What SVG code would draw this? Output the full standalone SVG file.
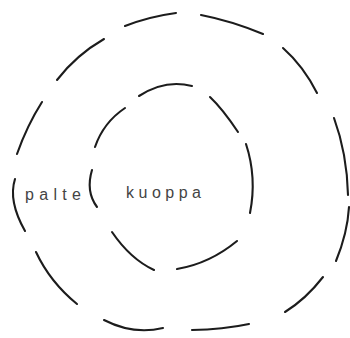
<svg xmlns="http://www.w3.org/2000/svg" width="350" height="338" viewBox="0 0 350 338">
<style>
.d{fill:none;stroke:#1c1c1c;stroke-width:2.1;stroke-linecap:round}
.t{font-family:"Liberation Sans","DejaVu Sans",sans-serif;font-size:16px;fill:#444}
</style>
<rect width="350" height="338" fill="#fff"/>
<g id="outer-ring">
<path class="d" d="M125,26 Q149.5,16.5 176,13"/>
<path class="d" d="M201,15 Q231.4,20.9 263,34"/>
<path class="d" d="M283,48 Q303.4,66.1 317,93"/>
<path class="d" d="M334,118 Q347,153.5 348,195"/>
<path class="d" d="M349,207 Q347.5,233 336,261"/>
<path class="d" d="M323,277 Q306,298.9 285,312"/>
<path class="d" d="M249,324 Q222.9,329.6 192,330"/>
<path class="d" d="M163,328 Q133,335 104,320"/>
<path class="d" d="M77,304 Q50,282 36,252"/>
<path class="d" d="M15,179 Q8,201 25,231"/>
<path class="d" d="M17,154 Q27.1,125.4 42,102"/>
<path class="d" d="M57,80 Q76.1,55.1 104,39"/>
</g>
<g id="inner-ring">
<path class="d" d="M139,96 Q165,79 192,86"/>
<path class="d" d="M210,97 Q222.6,108.9 238,132"/>
<path class="d" d="M246,144 Q257,177.5 250,213"/>
<path class="d" d="M237,241 Q209.6,263.6 177,269"/>
<path class="d" d="M154,270 Q130.4,259 112,232"/>
<path class="d" d="M92,170 Q85.5,191.5 97,207"/>
<path class="d" d="M95,147 Q103.4,122.5 125,108"/>
</g>
<g id="palte"><text class="t" x="25" y="200" textLength="56" lengthAdjust="spacing">palte</text></g>
<g id="kuoppa"><text class="t" x="126" y="197.5" textLength="75" lengthAdjust="spacing">kuoppa</text></g>
</svg>
